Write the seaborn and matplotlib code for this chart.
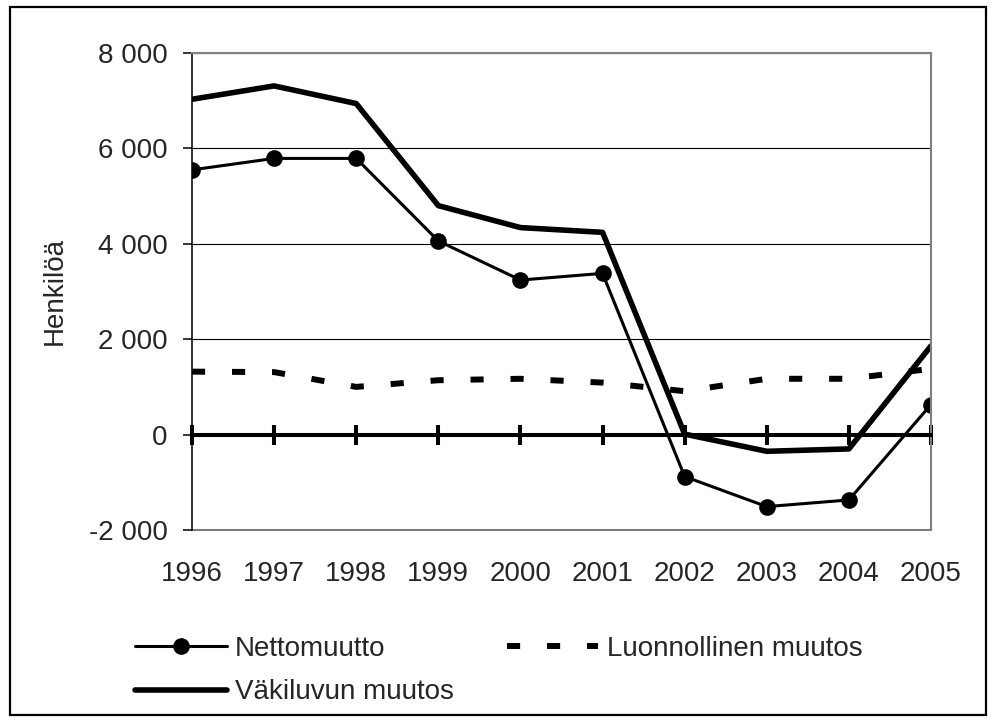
#!/usr/bin/env python3
"""
Väestönmuutoksen osatekijät 1996-2005
Piirtää kolme sarjaa: nettomuutto, luonnollinen muutos ja väkiluvun muutos
"""

import matplotlib
matplotlib.use("Agg")
import matplotlib.pyplot as plt
from matplotlib.patches import Rectangle
from matplotlib.ticker import FuncFormatter
import seaborn as sns

# Data (luettu kuvasta)
YEARS = [1996, 1997, 1998, 1999, 2000, 2001, 2002, 2003, 2004, 2005]
NETTOMUUTTO = [5550, 5790, 5790, 4060, 3240, 3380, -880, -1510, -1370, 630]
LUONNOLLINEN = [1320, 1310, 1000, 1140, 1170, 1090, 910, 1170, 1170, 1380]
VAKILUKU = [7030, 7310, 6940, 4800, 4340, 4240, 10, -350, -300, 1860]

Y_TICKS = [-2000, 0, 2000, 4000, 6000, 8000]
Y_LABEL = "Henkilöä"
LABELS = ["Nettomuutto", "Väkiluvun muutos", "Luonnollinen muutos"]

OUTPUT = "out.png"
FONT_SIZE = 20


def thousands(v, pos=None):
    # 8000 -> "8 000"
    return f"{int(round(v)):,}".replace(",", " ")


def main():
    sns.set_style("white")
    plt.rcParams["font.family"] = ["Liberation Sans", "DejaVu Sans"]
    plt.rcParams["axes.unicode_minus"] = False

    fig = plt.figure(figsize=(9.91, 7.2), dpi=100)
    ax = fig.add_axes([192 / 991, 1 - 530 / 720, (931 - 192) / 991, (530 - 53) / 720])

    # sarjat
    sns.lineplot(x=YEARS, y=NETTOMUUTTO, ax=ax, color="black", linewidth=2.2,
                 marker="o", markersize=12, markeredgewidth=0, label=LABELS[0])
    sns.lineplot(x=YEARS, y=VAKILUKU, ax=ax, color="black", linewidth=4.0,
                 label=LABELS[1])
    sns.lineplot(x=YEARS, y=LUONNOLLINEN, ax=ax, color="black", linewidth=4.3,
                 label=LABELS[2])
    ax.lines[-1].set_dashes((2.2, 4.5))
    ax.lines[-1].set_dash_capstyle("butt")

    ax.set_xlim(YEARS[0], YEARS[-1])
    ax.set_ylim(Y_TICKS[0], Y_TICKS[-1])
    ax.set_yticks(Y_TICKS)
    ax.yaxis.set_major_formatter(FuncFormatter(thousands))
    ax.grid(axis="y", color="black", linewidth=0.8)
    ax.grid(axis="x", visible=False)
    ax.set_axisbelow(True)

    # nollaviiva = x-akseli
    ax.spines["bottom"].set_position(("data", 0))
    ax.spines["bottom"].set_linewidth(2.9)
    ax.spines["bottom"].set_color("black")
    ax.set_xticks(YEARS)
    ax.tick_params(axis="x", direction="inout", length=14, width=2.9,
                   color="black", labelbottom=False, bottom=True)

    ax.spines["left"].set_color("black")
    ax.spines["left"].set_linewidth(1.1)
    ax.tick_params(axis="y", direction="out", length=6.5, width=1.1,
                   color="black", left=True, labelsize=FONT_SIZE, pad=11)
    for side in ["top", "right"]:
        ax.spines[side].set_color("#808080")
        ax.spines[side].set_linewidth(1.5)

    # vuosiluvut alareunaan
    secax = ax.secondary_xaxis("bottom")
    secax.set_xticks(YEARS)
    secax.set_xticklabels([str(y) for y in YEARS])
    secax.tick_params(length=0, pad=22, labelsize=FONT_SIZE)
    secax.spines["bottom"].set_color("#808080")
    secax.spines["bottom"].set_linewidth(1.5)

    ax.set_ylabel("")
    fig.text(55 / 991, 1 - 291 / 720, Y_LABEL, rotation=90, ha="center",
             va="center", fontsize=FONT_SIZE)

    handles, labels = ax.get_legend_handles_labels()
    ax.legend_.remove()
    fig.legend(handles, labels, loc="upper left",
               bbox_to_anchor=(135 / 991, 1 - 636 / 720), ncol=2,
               frameon=False, fontsize=FONT_SIZE, handlelength=3.3,
               handletextpad=0.3, columnspacing=1.9, labelspacing=0.62,
               borderpad=0, borderaxespad=0)

    # kehys kuvan ympärille
    fig.patches.append(Rectangle((10 / 991, 1 - 715 / 720), 976 / 991, 708 / 720,
                                 transform=fig.transFigure, fill=False,
                                 edgecolor="black", linewidth=1.6))

    fig.savefig(OUTPUT, dpi=100, facecolor="white")


if __name__ == "__main__":
    main()
